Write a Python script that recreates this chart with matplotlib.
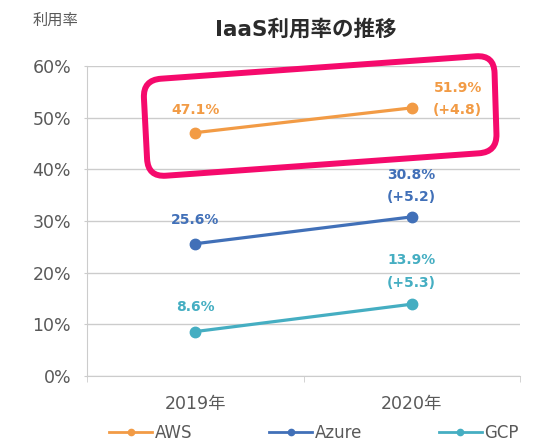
import matplotlib; matplotlib.use("Agg")
import matplotlib.pyplot as plt
from matplotlib.patches import PathPatch
from matplotlib.path import Path
from matplotlib.lines import Line2D
from matplotlib.transforms import Affine2D
from matplotlib.ticker import FixedLocator
import numpy as np

plt.rcParams['font.family'] = ['DejaVu Sans', 'Noto Sans CJK JP']

years = ["2019年", "2020年"]
series = ["AWS", "Azure", "GCP"]
aws = [47.1, 51.9]
azure = [25.6, 30.8]
gcp = [8.6, 13.9]
deltas = ["(+4.8)", "(+5.2)", "(+5.3)"]
colors = ["#F29B45", "#4170B8", "#45AEC2"]
GREY = "#595959"; GRID = "#CCCCCC"; PINK = "#F50A6C"

W, H = 534, 443
fig = plt.figure(figsize=(W/100, H/100), dpi=100)
ax = fig.add_axes([87/W, 1-376/H, 433/W, 310/H])

x = np.arange(len(years))
for vals, c in zip([aws, azure, gcp], colors):
    ax.plot(x, vals, color=c, lw=2.3, marker="o", ms=7.5, zorder=3)

# value labels, offsets in points from the data point
lab = dict(fontsize=10, fontweight="bold", ha="center", va="center", textcoords="offset points")
ax.annotate(f"{aws[0]}%", (0, aws[0]), xytext=(0, 16), color=colors[0], **lab)
ax.annotate(f"{aws[1]}%", (1, aws[1]), xytext=(33, 14), color=colors[0], **lab)
ax.annotate(deltas[0], (1, aws[1]), xytext=(33, -1.5), color=colors[0], **lab)
ax.annotate(f"{azure[0]}%", (0, azure[0]), xytext=(0, 17), color=colors[1], **lab)
ax.annotate(f"{azure[1]}%", (1, azure[1]), xytext=(0, 30), color=colors[1], **lab)
ax.annotate(deltas[1], (1, azure[1]), xytext=(0, 14), color=colors[1], **lab)
ax.annotate(f"{gcp[0]}%", (0, gcp[0]), xytext=(0, 17.5), color=colors[2], **lab)
ax.annotate(f"{gcp[1]}%", (1, gcp[1]), xytext=(0, 31.5), color=colors[2], **lab)
ax.annotate(deltas[2], (1, gcp[1]), xytext=(0, 15), color=colors[2], **lab)

ax.set_xlim(-0.5, 1.5); ax.set_ylim(0, 60)
ax.set_yticks(range(0, 61, 10))
ax.set_yticklabels([f"{v}%" for v in range(0, 61, 10)], fontsize=12.5, color=GREY)
ax.set_xticks(x); ax.set_xticklabels(years, fontsize=12.5, color=GREY)
ax.xaxis.set_minor_locator(FixedLocator([-0.5, 0.5, 1.5]))
ax.tick_params(axis="x", which="major", length=0, pad=14)
ax.tick_params(axis="x", which="minor", length=4, color=GRID)
ax.tick_params(axis="y", length=2.5, color=GRID, pad=9)
ax.grid(axis="y", color=GRID, lw=1)
for s in ["top", "right"]: ax.spines[s].set_visible(False)
for s in ["left", "bottom"]: ax.spines[s].set_color(GRID)
ax.set_axisbelow(True)

fig.text(306/W, 1-29/H, "IaaS利用率の推移", fontsize=15.5, fontweight="bold", color="#2b2b2b", ha="center", va="center")
fig.text(55/W, 1-20/H, "利用率", fontsize=11, color=GREY, ha="center", va="center")

handles = [Line2D([], [], color=c, lw=2, marker="o", ms=4.5) for c in colors]
fig.legend(handles, series, loc="center", bbox_to_anchor=(314/W, 1-433/H), ncol=3, frameon=False,
           fontsize=12, labelcolor=GREY, handlelength=2.6, handletextpad=0.15, columnspacing=4.6)

# hand-drawn style highlight box around AWS (pixel corners, y from top)
corners = [(143, 80), (494, 55), (497, 152), (148, 177)]
r = 18
verts, codes = [], []
n = len(corners)
for i in range(n):
    p = np.array(corners[i], float)
    prev = np.array(corners[i-1], float); nxt = np.array(corners[(i+1) % n], float)
    a = p + (prev-p)/np.linalg.norm(prev-p)*r
    b = p + (nxt-p)/np.linalg.norm(nxt-p)*r
    verts += [a, p, b]
    codes += [Path.MOVETO if i == 0 else Path.LINETO, Path.CURVE3, Path.CURVE3]
verts.append(verts[0]); codes.append(Path.CLOSEPOLY)
verts = [(vx, H-vy) for vx, vy in verts]
box = PathPatch(Path(verts, codes), fill=False, ec=PINK, lw=4.3, joinstyle="round",
                transform=Affine2D().scale(1/W, 1/H) + fig.transFigure)
fig.patches.append(box)

fig.savefig("out.png", dpi=100)
